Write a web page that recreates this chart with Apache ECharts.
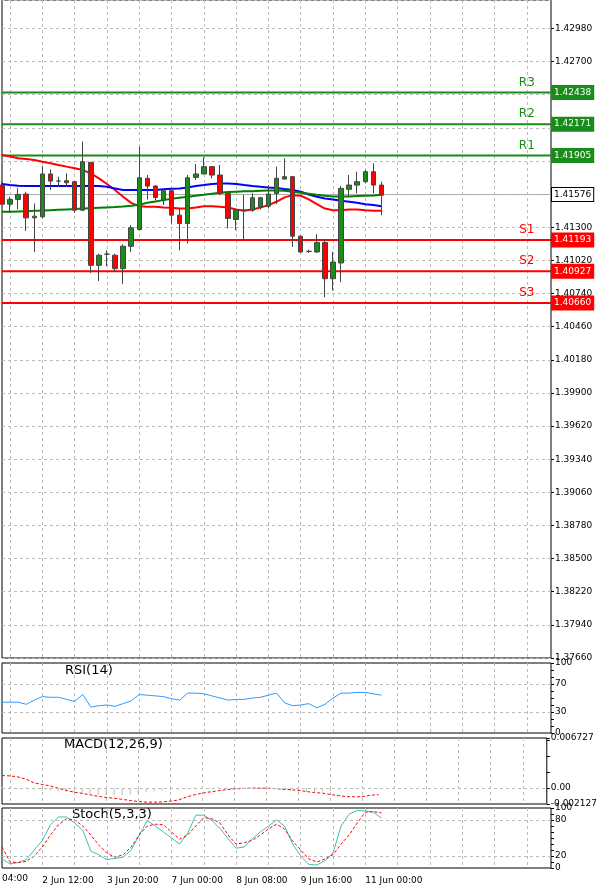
<!DOCTYPE html>
<html>
<head>
<meta charset="utf-8">
<script src="https://cdn.jsdelivr.net/npm/echarts@6/dist/echarts.min.js"></script>
<style>html,body{margin:0;padding:0;background:#fff}#chart{width:600px;height:894px}</style>
</head>
<body>
<div id="chart"></div>
<script>
// 蜡烛 [open, close, low, high]
var candles = [
  [1.41656,1.41495,1.41495,1.41685],[1.41495,1.41535,1.41422,1.41557],[1.41535,1.41577,1.41450,1.41628],
  [1.41580,1.41379,1.41269,1.41600],[1.41379,1.41393,1.41091,1.41501],[1.41388,1.41750,1.41374,1.41817],
  [1.41750,1.41690,1.41614,1.41789],[1.41690,1.41690,1.41642,1.41727],[1.41693,1.41676,1.41642,1.41755],
  [1.41685,1.41444,1.41422,1.41685],[1.41444,1.41854,1.41439,1.42024],[1.41846,1.40978,1.40913,1.41854],
  [1.40978,1.41063,1.40845,1.41077],[1.41072,1.41072,1.40970,1.41105],[1.41063,1.40950,1.40930,1.41077],
  [1.40950,1.41139,1.40822,1.41156],[1.41139,1.41295,1.41091,1.41317],[1.41280,1.41718,1.41275,1.41981],
  [1.41713,1.41648,1.41535,1.41741],[1.41648,1.41552,1.41529,1.41656],[1.41529,1.41608,1.41487,1.41628],
  [1.41608,1.41402,1.41331,1.41628],[1.41402,1.41331,1.41105,1.41458],[1.41331,1.41718,1.41162,1.41741],
  [1.41721,1.41750,1.41699,1.41834],[1.41750,1.41812,1.41750,1.41891],[1.41812,1.41741,1.41713,1.41817],
  [1.41741,1.41586,1.41571,1.41826],[1.41586,1.41374,1.41289,1.41600],[1.41365,1.41444,1.41275,1.41458],
  [1.41444,1.41444,1.41190,1.41571],[1.41444,1.41549,1.41430,1.41586],[1.41473,1.41549,1.41450,1.41557],
  [1.41478,1.41580,1.41458,1.41656],[1.41586,1.41713,1.41495,1.41812],[1.41707,1.41727,1.41704,1.41882],
  [1.41727,1.41224,1.41133,1.41733],[1.41224,1.41091,1.41082,1.41232],[1.41096,1.41096,1.41082,1.41111],
  [1.41091,1.41170,1.41082,1.41241],[1.41170,1.40865,1.40709,1.41190],[1.40865,1.41006,1.40766,1.41091],
  [1.40998,1.41628,1.40836,1.41648],[1.41620,1.41656,1.41557,1.41741],[1.41656,1.41685,1.41586,1.41769],
  [1.41685,1.41769,1.41670,1.41783],[1.41769,1.41656,1.41586,1.41840],[1.41656,1.41571,1.41402,1.41685]
];
var maRed = [1.41911,1.41897,1.41882,1.41877,1.41868,1.41854,1.41840,1.41826,1.41812,1.41798,1.41783,1.41755,
  1.41713,1.41665,1.41614,1.41557,1.41506,1.41478,1.41473,1.41473,1.41467,1.41464,1.41458,1.41458,
  1.41467,1.41478,1.41478,1.41473,1.41467,1.41450,1.41439,1.41450,1.41467,1.41487,1.41515,1.41552,
  1.41571,1.41566,1.41535,1.41495,1.41458,1.41444,1.41444,1.41450,1.41450,1.41444,1.41439,1.41439];
var maBlue = [1.41665,1.41656,1.41651,1.41648,1.41648,1.41648,1.41648,1.41648,1.41648,1.41648,1.41648,1.41648,
  1.41648,1.41642,1.41628,1.41614,1.41614,1.41614,1.41614,1.41614,1.41620,1.41625,1.41628,1.41636,
  1.41648,1.41656,1.41665,1.41670,1.41670,1.41665,1.41656,1.41648,1.41642,1.41636,1.41631,1.41622,
  1.41614,1.41600,1.41577,1.41557,1.41543,1.41535,1.41523,1.41515,1.41506,1.41495,1.41487,1.41478];
var maGreen = [1.41430,1.41430,1.41433,1.41436,1.41439,1.41441,1.41444,1.41447,1.41450,1.41453,1.41458,1.41461,
  1.41464,1.41467,1.41470,1.41475,1.41481,1.41490,1.41506,1.41518,1.41529,1.41540,1.41549,1.41557,
  1.41566,1.41574,1.41583,1.41591,1.41597,1.41600,1.41603,1.41605,1.41608,1.41611,1.41611,1.41608,
  1.41600,1.41591,1.41583,1.41574,1.41566,1.41560,1.41560,1.41560,1.41563,1.41566,1.41569,1.41574];
var rsi = [44,44,44,41,47,52,51,51,48,45,55,37,39,40,38,42,46,55,54,53,52,49,47,57,
  57,56,53,50,47,48,48,50,51,54,57,43,39,40,42,36,41,50,57,57,58,58,56,54];
var macdHist = [0.0002,0.0002,0.0001,0.0001,-0.0002,-0.0003,-0.0003,-0.0004,-0.0005,-0.0006,-0.0007,-0.0008,
  -0.0009,-0.0009,-0.0010,-0.0010,-0.0009,-0.0008,-0.0006,-0.0004,-0.0003,-0.0003,-0.0002,0.0001,
  0.0001,0.0001,0.0001,0.0001,0.0001,0.0001,0.0001,-0.0001,-0.0001,-0.0002,-0.0002,-0.0002,
  -0.0004,-0.0005,-0.0005,-0.0005,-0.0004,-0.0004,-0.0002,0.0001,0.0001,0.0001,0.0001,0.0001];
var macdSignal = [0.00168,0.00165,0.00150,0.00120,0.00070,0.00050,0.00030,0.00000,-0.00030,-0.00054,-0.00070,-0.00090,
  -0.00110,-0.00125,-0.00135,-0.00150,-0.00165,-0.00180,-0.00188,-0.00188,-0.00185,-0.00175,-0.00160,-0.00120,
  -0.00090,-0.00067,-0.00050,-0.00035,-0.00020,-0.00010,-0.00005,0,0,0,-0.00005,-0.00015,
  -0.00020,-0.00030,-0.00045,-0.00060,-0.00067,-0.00085,-0.00100,-0.00114,-0.00116,-0.00114,-0.00095,-0.00087];
var stochK = [15,7,9,14,30,46,72,85,85,75,63,28,22,14,16,18,30,55,79,70,60,50,40,58,
  88,88,79,66,49,33,35,49,60,70,80,70,40,20,6,5,12,25,70,90,96,95,93,83];
var stochD = [35,10,9,11,20,35,55,72,82,80,70,55,38,25,18,22,35,55,70,73,72,60,48,55,
  70,84,82,75,55,40,42,46,55,65,73,65,45,30,15,10,15,22,40,55,75,93,94,92];
// 支撑/阻力
var levelNames = ['R3','R2','R1','S1','S2','S3'];
var levelValues = [1.42438,1.42171,1.41905,1.41193,1.40927,1.40660];
var lastPrice = 1.41576;
var priceTicks = {min: 1.3766, max: 1.4322, step: 0.0028};
// 横轴标签（按蜡烛序号）
var timeLabels = {5:'2 Jun 12:00',13:'3 Jun 20:00',21:'7 Jun 00:00',29:'8 Jun 08:00',37:'9 Jun 16:00',45:'11 Jun 00:00'};
var totalSlots = 69;

var cats = [];
for (var i = 0; i < totalSlots; i++) cats.push(timeLabels[i] || '');

var GREEN = '#1a8c1a', RED = '#ff0000';
var font = 'DejaVu Sans';
var dash = {show: true, lineStyle: {color: '#bbb', type: [3, 3], width: 1}};

function xAxis(idx, showLabel) {
  return {
    type: 'category', gridIndex: idx, data: cats, boundaryGap: false,
    axisLine: {show: false}, axisTick: {show: false},
    splitLine: {show: true, interval: function (i) { return i % 4 === 1; }, lineStyle: dash.lineStyle},
    axisLabel: {show: showLabel, interval: function (i) { return !!timeLabels[i]; }, align: 'left',
      fontFamily: font, fontSize: 9, color: '#000', margin: 8}
  };
}
function yAxis(idx, o) {
  var base = {
    type: 'value', gridIndex: idx, position: 'right', scale: true,
    axisLine: {show: false}, axisTick: {show: true, length: 3, lineStyle: {color: '#000'}},
    splitLine: {show: false},
    axisLabel: {fontFamily: font, fontSize: 9, color: '#000', margin: 4}
  };
  for (var k in o) base[k] = o[k];
  return base;
}

// 水平线：整条画过去，末端显示价格框，靠右写名字
function levelLine(v, name, color, boxBg, boxFg, width) {
  var data = [];
  for (var i = 0; i < totalSlots; i++) {
    if (name && i === totalSlots - 4) {
      data.push({value: v, label: {show: true, position: 'top', formatter: name, color: color,
        fontFamily: font, fontSize: 12, distance: 4}});
    } else {
      data.push(v);
    }
  }
  return {type: 'line', xAxisIndex: 0, yAxisIndex: 0, data: data, silent: true, z: 1,
    showSymbol: true, showAllSymbol: true, symbol: 'circle', symbolSize: 0.01,
    label: {show: false}, lineStyle: {color: color, width: width},
    endLabel: {show: true, formatter: v.toFixed(5), color: boxFg, backgroundColor: boxBg,
      borderColor: boxFg === '#000' ? '#000' : boxBg, borderWidth: 1,
      fontFamily: font, fontSize: 9, padding: [2, 2], distance: 1}};
}
var levelSeries = [];
levelValues.forEach(function (v, i) {
  var c = i < 3 ? GREEN : RED;
  levelSeries.push(levelLine(v, levelNames[i], c, c, '#fff', 2));
});
levelSeries.push(levelLine(lastPrice, '', '#aaa', '#fff', '#000', 1));

function panelTitle(t, x, y) {
  return {type: 'text', left: x, top: y, style: {text: t, fontFamily: font, fontSize: 13, fill: '#000'}};
}

var option = {
  animation: false,
  backgroundColor: '#fff',
  graphic: [
    panelTitle('RSI(14)', 65, 664),
    panelTitle('MACD(12,26,9)', 64, 738),
    panelTitle('Stoch(5,3,3)', 72, 808),
    {type: 'text', left: 2, top: 874, style: {text: '04:00', fontFamily: font, fontSize: 9, fill: '#000'}}
  ],
  grid: [
    {left: 2, right: 49, top: 0, height: 658, show: true, borderColor: '#000', borderWidth: 1},
    {left: 2, right: 49, top: 663, height: 70, show: true, borderColor: '#000', borderWidth: 1},
    {left: 2, right: 49, top: 738, height: 66, show: true, borderColor: '#000', borderWidth: 1},
    {left: 2, right: 49, top: 808, height: 60, show: true, borderColor: '#000', borderWidth: 1}
  ],
  xAxis: [xAxis(0, false), xAxis(1, false), xAxis(2, false), xAxis(3, true)],
  yAxis: [
    yAxis(0, {min: priceTicks.min, max: priceTicks.max, interval: priceTicks.step, scale: false,
      splitLine: dash, axisLabel: {fontFamily: font, fontSize: 9, color: '#000', margin: 4,
        showMaxLabel: false, formatter: function (v) { return v.toFixed(5); }}}),
    yAxis(1, {min: 0, max: 100, interval: 10, scale: false,
      axisLabel: {fontFamily: font, fontSize: 9, color: '#000', margin: 4,
        formatter: function (v) { return (v === 0 || v === 30 || v === 70 || v === 100) ? v : ''; }}}),
    yAxis(2, {min: -0.002127, max: 0.006727, interval: 0.002127, scale: false,
      axisLabel: {fontFamily: font, fontSize: 9, color: '#000', margin: 4,
        formatter: function (v) {
          if (Math.abs(v) < 1e-9) return '0.00';
          if (Math.abs(v + 0.002127) < 1e-9) return '-0.002127';
          if (Math.abs(v - 0.006727) < 1e-9) return '0.006727';
          return '';
        }}}),
    yAxis(3, {min: 0, max: 100, interval: 10, scale: false,
      axisLabel: {fontFamily: font, fontSize: 9, color: '#000', margin: 4,
        formatter: function (v) { return (v === 0 || v === 20 || v === 80 || v === 100) ? v : ''; }}})
  ],
  series: levelSeries.concat([
    {type: 'line', xAxisIndex: 0, yAxisIndex: 0, data: maRed, showSymbol: false, lineStyle: {color: RED, width: 2}},
    {type: 'line', xAxisIndex: 0, yAxisIndex: 0, data: maBlue, showSymbol: false, lineStyle: {color: '#0000ff', width: 2}},
    {type: 'line', xAxisIndex: 0, yAxisIndex: 0, data: maGreen, showSymbol: false, lineStyle: {color: '#008000', width: 2}},
    {type: 'candlestick', xAxisIndex: 0, yAxisIndex: 0, data: candles, barWidth: 5, z: 3,
      itemStyle: {color: GREEN, color0: RED, borderColor: '#444', borderColor0: '#444', borderWidth: 1}},
    {type: 'line', xAxisIndex: 1, yAxisIndex: 1, data: rsi, showSymbol: false, lineStyle: {color: '#3399ff', width: 1},
      markLine: {symbol: 'none', silent: true, label: {show: false},
        lineStyle: {color: '#bbb', type: [3, 3], width: 1}, data: [{yAxis: 30}, {yAxis: 70}]}},
    {type: 'bar', xAxisIndex: 2, yAxisIndex: 2, data: macdHist, barWidth: 1, itemStyle: {color: '#bbb'}},
    {type: 'line', xAxisIndex: 2, yAxisIndex: 2, data: macdSignal, showSymbol: false,
      lineStyle: {color: RED, width: 1, type: [3, 2]},
      markLine: {symbol: 'none', silent: true, label: {show: false},
        lineStyle: {color: '#bbb', type: [3, 3], width: 1}, data: [{yAxis: 0}]}},
    {type: 'line', xAxisIndex: 3, yAxisIndex: 3, data: stochK, showSymbol: false, lineStyle: {color: '#40c0b0', width: 1},
      markLine: {symbol: 'none', silent: true, label: {show: false},
        lineStyle: {color: '#bbb', type: [3, 3], width: 1}, data: [{yAxis: 20}, {yAxis: 80}]}},
    {type: 'line', xAxisIndex: 3, yAxisIndex: 3, data: stochD, showSymbol: false, lineStyle: {color: RED, width: 1, type: [3, 2]}}
  ])
};

var myChart = echarts.init(document.getElementById('chart'));
myChart.setOption(option);
</script>
</body>
</html>
